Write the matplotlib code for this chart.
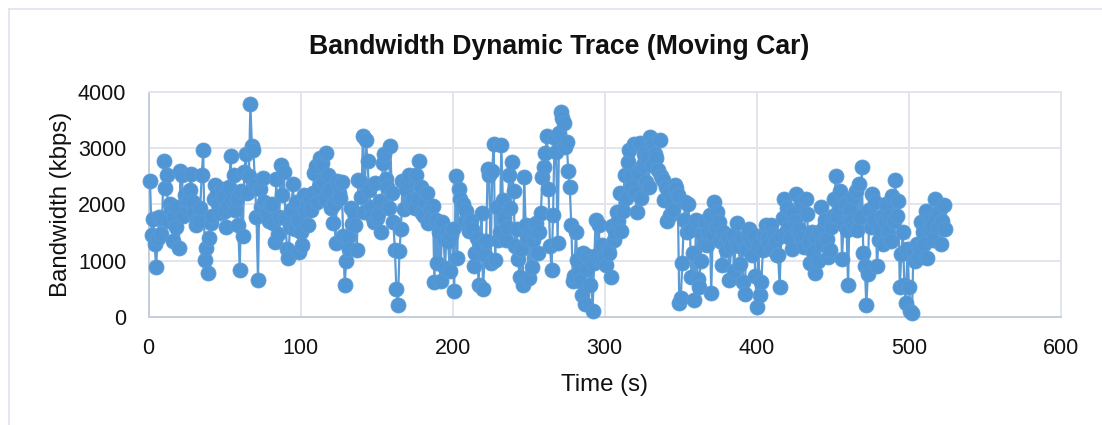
import numpy as np
import matplotlib
matplotlib.use('Agg')
import matplotlib.pyplot as plt
from matplotlib.lines import Line2D

plt.rcParams['font.family'] = ['Liberation Sans', 'DejaVu Sans']

# one reading per second
bandwidth_kbps = [
    2415,1455,1733,1300,877,1400,1780,1470,1760,2770,
    2285,2530,1700,2000,1900,1340,1780,1600,1950,1220,
    2590,2530,1800,2160,1950,2060,2250,2545,2050,1840,
    1640,1720,1700,1930,2530,2960,1010,1230,780,1400,
    1660,1800,2100,2340,2180,2000,1840,2280,2150,1880,
    1600,1980,2310,2860,2100,2530,1900,2100,1630,830,
    2230,1430,2580,2900,2200,2500,3780,3040,2960,2350,
    1780,650,2280,1950,2470,2050,1900,1840,1700,1990,
    2000,1660,1330,2460,1470,1780,2700,2160,2580,1760,
    1210,1050,1600,1900,2370,1570,2040,1700,1150,1510,
    1280,2160,1900,2000,1630,2100,1900,2200,2560,2690,
    2050,2300,2830,2740,2400,2100,2920,2530,2250,1930,
    1670,2000,1310,2410,2200,2120,2400,1430,560,990,
    1420,1200,1940,1650,1850,1640,1190,2430,2420,2130,
    3210,1860,3140,2770,2250,1950,1800,1690,2380,1750,
    1820,2060,1500,2730,2890,2460,2300,1930,3040,2210,
    1680,1190,490,200,1170,1560,2410,1910,2280,2400,
    2520,2000,1990,2100,1930,2530,2100,2780,2310,1850,
    1800,2050,2200,1660,1900,1750,1970,620,1720,960,
    1500,640,1690,1400,860,1510,1350,820,1450,1570,
    460,2510,1050,2280,2090,1980,2000,1700,1880,1600,
    1520,1700,1570,900,1130,1400,570,1250,1840,490,
    1100,1340,2630,2520,950,2600,3070,1010,1960,1360,
    1500,3060,2080,1750,1370,1600,2530,1930,2750,2240,
    1260,1570,1030,710,1200,560,2480,1630,1400,690,
    1510,880,1370,1500,1660,1130,1510,1850,2490,2660,
    2910,3210,2280,1260,830,1810,3190,2930,1320,3270,
    3650,3530,3440,3020,3110,2590,2300,1640,640,720,
    1510,1010,800,640,390,1140,225,850,1080,570,
    1000,100,950,1730,1100,1640,1010,1270,1000,1100,
    920,1200,1130,710,1610,1370,1500,1870,1700,2200,
    1530,1880,2520,2120,2750,2960,2500,2300,3080,2200,
    1870,2580,3100,2110,2700,2900,2400,2830,2310,3200,
    2700,3080,2900,2820,2610,3140,2500,2430,2070,2310,
    1700,2200,1810,2100,1900,2350,2290,2170,250,330,
    950,1720,2050,1500,2000,1540,700,1130,300,1720,
    680,530,990,1480,1300,1700,1270,1500,1810,430,
    1480,2040,1600,1870,1690,1350,920,1500,1300,1190,
    1400,650,1250,1460,810,1300,1660,1250,930,1400,
    620,410,1200,1450,1570,1350,1100,1460,720,170,
    1250,380,620,1190,1450,1630,1400,1300,1630,1200,
    1450,1350,1100,1090,530,1430,1750,2100,1500,1930,
    1600,1400,1210,1840,1700,2190,1500,1570,2040,1400,
    1240,2100,1820,1330,950,1500,1150,780,1400,990,
    1510,1950,1300,1600,1720,1390,1070,1190,1600,1800,
    2100,2500,1800,1930,2240,1030,1630,2000,1540,570,
    1900,1700,2130,1600,2240,1540,2360,1780,2670,1130,
    900,200,760,1900,1600,2180,1720,2040,900,1360,
    1560,1800,1300,1700,2010,1510,1800,1350,2150,1700,
    2430,1800,2060,530,1110,1500,560,250,1200,530,
    110,70,1190,1000,1300,1050,1240,1690,1500,1300,
    1890,1050,1570,1700,1630,1360,2090,1800,1600,1870,
    1300,1700,1990,1570,
]
time_s = np.arange(1, len(bandwidth_kbps) + 1)

x_ticks = [0, 100, 200, 300, 400, 500, 600]
y_ticks = [0, 1000, 2000, 3000, 4000]

W, H = 1102, 425
fig = plt.figure(figsize=(W/100, H/100), dpi=100)
fig.patch.set_facecolor('white')

# outer chart frame, only left and top land inside the picture
fig.add_artist(Line2D([8.5/W, 8.5/W], [0, 1-8.5/H], color='#dde3ee', lw=1.2))
fig.add_artist(Line2D([8.5/W, 1], [1-8.5/H, 1-8.5/H], color='#dde3ee', lw=1.2))

ax = fig.add_axes([148.5/W, 1-316.7/H, (1061-148.5)/W, (316.7-92)/H])
ax.plot(time_s, bandwidth_kbps, color='#5b9bd5', lw=1.6, marker='o', ms=10.8,
        mfc='#5096d5', mec='#5b9bd5', mew=0.6, clip_on=False, zorder=3)

ax.set_xlim(0, 600); ax.set_ylim(0, 4000)
ax.set_xticks(x_ticks); ax.set_yticks(y_ticks)
ax.grid(True, color='#e2e5ec', lw=1.4)
ax.set_axisbelow(True)
ax.tick_params(labelsize=15.5, length=0, colors='#111111')
ax.tick_params(axis='x', pad=15)
ax.tick_params(axis='y', pad=16)
for sp in ['top', 'right']:
    ax.spines[sp].set_color('#e2e5ec'); ax.spines[sp].set_linewidth(1.4)
for sp in ['left', 'bottom']:
    ax.spines[sp].set_color('#c3cede'); ax.spines[sp].set_linewidth(1.4)

ax.set_xlabel('Time (s)', fontsize=17.3, labelpad=11, color='#111111')
ax.set_ylabel('Bandwidth (kbps)', fontsize=17.3, labelpad=4, color='#111111')
ax.set_title('Bandwidth Dynamic Trace (Moving Car)', x=0.45, fontsize=19.2, fontweight='bold',
             pad=27.5, color='#111111')

plt.savefig('out.png', dpi=100, facecolor='white')
plt.close()
